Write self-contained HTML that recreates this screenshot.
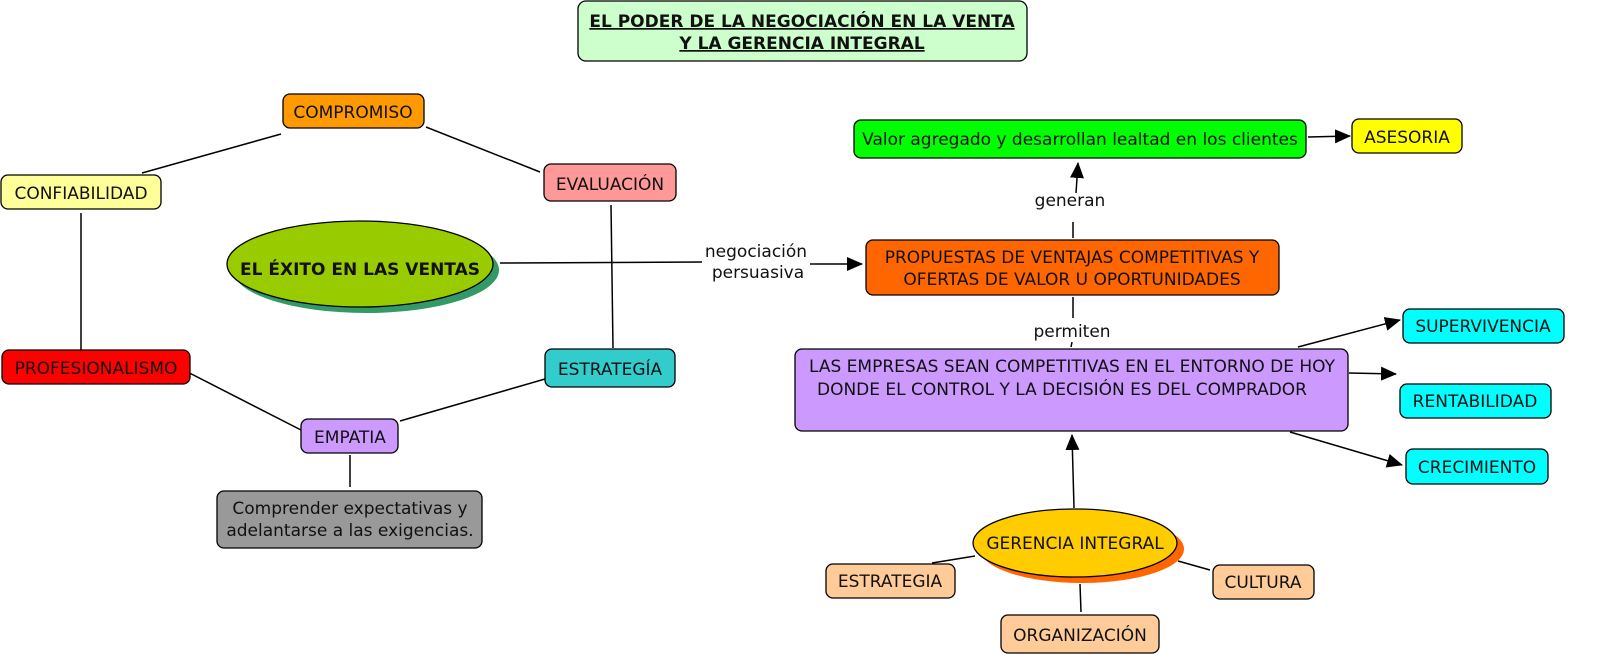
<!DOCTYPE html>
<html><head><meta charset="utf-8"><style>
html,body{margin:0;padding:0;background:#fff;overflow:hidden;width:1600px;height:672px;}
svg{display:block;position:absolute;left:0;top:0;}
text{font-family:"DejaVu Sans","Liberation Sans",sans-serif;font-size:17px;fill:#111;}
</style></head><body>
<svg width="1600" height="672" viewBox="0 0 1600 672" xmlns="http://www.w3.org/2000/svg">
<defs>
<marker id="b" markerWidth="16" markerHeight="14" refX="15" refY="7" orient="auto" markerUnits="userSpaceOnUse"><path d="M0,0 L16,7 L0,14 z" fill="#000"/></marker></defs>
<g stroke="#000" stroke-width="1.5" fill="none">
<line x1="142" y1="173" x2="281" y2="134"/>
<line x1="426" y1="127" x2="540" y2="172"/>
<line x1="81" y1="213" x2="81" y2="350"/>
<line x1="166" y1="361" x2="301" y2="430"/>
<line x1="400" y1="421" x2="545" y2="379"/>
<line x1="350" y1="455" x2="350" y2="487"/>
<line x1="611" y1="205" x2="613" y2="348"/>
<line x1="500" y1="263" x2="702" y2="262"/>
<line x1="810" y1="264" x2="862" y2="264" marker-end="url(#b)"/>
<line x1="1073" y1="238" x2="1073" y2="222"/>
<line x1="1076" y1="193" x2="1078" y2="163" marker-end="url(#b)"/>
<line x1="1308" y1="137" x2="1350" y2="136" marker-end="url(#b)"/>
<line x1="1073" y1="297" x2="1073" y2="318"/>
<line x1="1072" y1="342" x2="1071" y2="347"/>
<line x1="1298" y1="347" x2="1400" y2="320" marker-end="url(#b)"/>
<line x1="1349" y1="373" x2="1396" y2="374" marker-end="url(#b)"/>
<line x1="1290" y1="432" x2="1402" y2="465" marker-end="url(#b)"/>
<line x1="1074" y1="508" x2="1072" y2="435" marker-end="url(#b)"/>
<line x1="932" y1="563" x2="975" y2="556"/>
<line x1="1178" y1="561" x2="1210" y2="570"/>
<line x1="1080" y1="584" x2="1081" y2="612"/>
</g>
<g stroke="#000" stroke-width="1.3">
<rect x="578" y="1" width="449" height="60" rx="8" fill="#ccffcc"/>
<rect x="283" y="94" width="141" height="34" rx="7" fill="#ff9900"/>
<rect x="1" y="175" width="160" height="34" rx="7" fill="#ffff99"/>
<rect x="544" y="164" width="132" height="37" rx="7" fill="#ff9999"/>
<ellipse cx="366" cy="270" rx="133" ry="43" fill="#339966" stroke="none"/>
<ellipse cx="360" cy="264" rx="133" ry="43" fill="#99cc00"/>
<rect x="2" y="350" width="188" height="34" rx="7" fill="#ff0000"/>
<rect x="545" y="349" width="130" height="38" rx="7" fill="#33cccc"/>
<rect x="301" y="419" width="97" height="34" rx="7" fill="#cc99ff"/>
<rect x="217" y="491" width="265" height="57" rx="7" fill="#999999"/>
<rect x="854" y="120" width="452" height="38" rx="7" fill="#00ff00"/>
<rect x="1352" y="119" width="110" height="34" rx="7" fill="#ffff00"/>
<rect x="866" y="240" width="413" height="55" rx="7" fill="#ff6600"/>
<rect x="795" y="349" width="553" height="82" rx="7" fill="#cc99ff"/>
<rect x="1403" y="309" width="161" height="34" rx="7" fill="#00ffff"/>
<rect x="1400" y="384" width="151" height="34" rx="7" fill="#00ffff"/>
<rect x="1406" y="449" width="142" height="35" rx="7" fill="#00ffff"/>
<ellipse cx="1082" cy="549" rx="102" ry="34" fill="#ff6600" stroke="none"/>
<ellipse cx="1075" cy="543" rx="102" ry="34" fill="#ffcc00"/>
<rect x="826" y="564" width="129" height="34" rx="7" fill="#ffcc99"/>
<rect x="1213" y="565" width="101" height="34" rx="7" fill="#ffcc99"/>
<rect x="1001" y="615" width="158" height="38" rx="7" fill="#ffcc99"/>
</g>
<g text-anchor="middle">
<text x="802" y="27" font-weight="bold" text-decoration="underline">EL PODER DE LA NEGOCIACIÓN EN LA VENTA</text>
<text x="802" y="49" font-weight="bold" text-decoration="underline">Y LA GERENCIA INTEGRAL</text>
<text x="353" y="118">COMPROMISO</text>
<text x="81" y="199">CONFIABILIDAD</text>
<text x="610" y="190">EVALUACIÓN</text>
<text x="360" y="275" font-weight="bold" style="font-size:17px">EL ÉXITO EN LAS VENTAS</text>
<text x="96" y="374">PROFESIONALISMO</text>
<text x="610" y="375">ESTRATEGÍA</text>
<text x="350" y="443">EMPATIA</text>
<text x="350" y="514">Comprender expectativas y</text>
<text x="350" y="536">adelantarse a las exigencias.</text>
<text x="756" y="257">negociación</text>
<text x="758" y="278">persuasiva</text>
<text x="1080" y="145">Valor agregado y desarrollan lealtad en los clientes</text>
<text x="1407" y="143">ASESORIA</text>
<text x="1070" y="206">generan</text>
<text x="1072" y="263">PROPUESTAS DE VENTAJAS COMPETITIVAS Y</text>
<text x="1072" y="285">OFERTAS DE VALOR U OPORTUNIDADES</text>
<text x="1072" y="337">permiten</text>
<text x="1072" y="372">LAS EMPRESAS SEAN COMPETITIVAS EN EL ENTORNO DE HOY</text>
<text x="1062" y="395">DONDE EL CONTROL Y LA DECISIÓN ES DEL COMPRADOR</text>
<text x="1483" y="332">SUPERVIVENCIA</text>
<text x="1475" y="407">RENTABILIDAD</text>
<text x="1477" y="473">CRECIMIENTO</text>
<text x="1075" y="549">GERENCIA INTEGRAL</text>
<text x="890" y="587">ESTRATEGIA</text>
<text x="1263" y="588">CULTURA</text>
<text x="1080" y="641">ORGANIZACIÓN</text>
</g>
</svg>
</body></html>
